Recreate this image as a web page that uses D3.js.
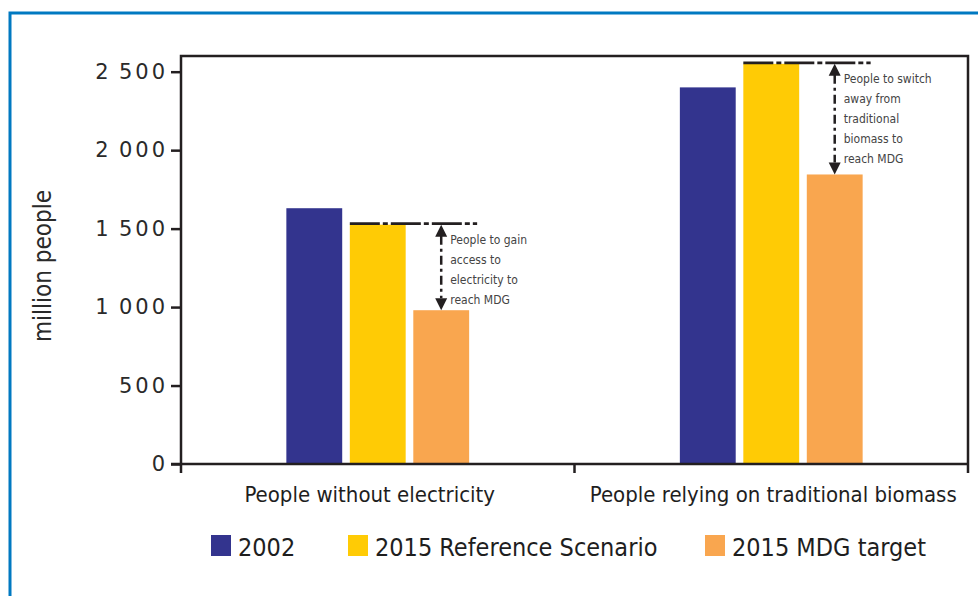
<!doctype html>
<html>
  <head>
    <script src="https://cdnjs.cloudflare.com/ajax/libs/d3/7.8.5/d3.min.js"></script>
    <style>
      body { margin: 0; background: #fff; }
      svg { display: block; }
      .tick text { font-family: "DejaVu Sans", sans-serif; letter-spacing: 3px; }
    </style>
  </head>
  <body>
    <svg width="978" height="596"></svg>
    <script>
      // values (million people)
      var categories = ["People without electricity", "People relying on traditional biomass"];
      var seriesNames = ["2002", "2015 Reference Scenario", "2015 MDG target"];
      var val2002 = [1630, 2400];
      var valRef = [1525, 2550];
      var valMdg = [980, 1845];
      var yTicks = [0, 500, 1000, 1500, 2000, 2500];
      var notes = [
        ["People to gain", "access to", "electricity to", "reach MDG"],
        ["People to switch", "away from", "traditional", "biomass to", "reach MDG"]
      ];
      var colors = ["#33348e", "#ffcb05", "#f9a64f"];

      var ink = "#231f20";
      var narrow = "'Liberation Sans Narrow', 'DejaVu Sans Condensed', sans-serif";

      var rows = categories.map((c, i) => ({cat: c, vals: [val2002[i], valRef[i], valMdg[i]]}));

      var svg = d3.select("svg");

      // blue outer frame
      svg.append("path")
        .attr("d", "M10,596 V13 H978")
        .attr("fill", "none")
        .attr("stroke", "#0079c1")
        .attr("stroke-width", 3);

      var pLeft = 181, pRight = 968, pTop = 56, pBottom = 464;

      var y = d3.scaleLinear().domain([0, 2600]).range([pBottom, pTop]);
      var x0 = d3.scaleBand().domain(categories).range([pLeft, pRight]);
      var x1 = d3.scaleBand().domain(seriesNames).range([0, x0.bandwidth()])
        .paddingInner(0.12).paddingOuter(1.66);

      // bars
      var groups = svg.selectAll("g.grp")
        .data(rows)
        .enter()
        .append("g")
          .attr("class", "grp")
          .attr("transform", d => `translate(${x0(d.cat)},0)`);

      groups.selectAll("rect")
        .data(d => d.vals.map((v, i) => ({name: seriesNames[i], v: v, i: i})))
        .enter()
        .append("rect")
          .attr("x", d => x1(d.name))
          .attr("y", d => y(d.v))
          .attr("width", x1.bandwidth())
          .attr("height", d => pBottom - y(d.v))
          .attr("fill", d => colors[d.i]);

      // y axis
      var yAxis = svg.append("g")
        .attr("transform", `translate(${pLeft},0)`)
        .call(d3.axisLeft(y).tickValues(yTicks).tickSize(10).tickPadding(6)
          .tickFormat(d => d3.format(",")(d).replace(",", "\u2009")));
      yAxis.select(".domain").remove();
      yAxis.selectAll(".tick line").attr("stroke", ink).attr("stroke-width", 2.5);
      yAxis.selectAll(".tick text")
        .attr("fill", "#2a2a2a")
        .attr("font-size", 21)
        .attr("dx", 3);

      // plot box + axis lines
      svg.append("path")
        .attr("d", `M${pLeft},${pBottom + 9} V${pTop} H${pRight} V${pBottom + 9}`)
        .attr("fill", "none")
        .attr("stroke", ink)
        .attr("stroke-width", 2.5);
      svg.append("line")
        .attr("x1", pLeft - 10).attr("x2", pRight)
        .attr("y1", pBottom).attr("y2", pBottom)
        .attr("stroke", ink).attr("stroke-width", 2.5);
      svg.append("line")
        .attr("x1", x0(categories[1])).attr("x2", x0(categories[1]))
        .attr("y1", pBottom).attr("y2", pBottom + 9)
        .attr("stroke", ink).attr("stroke-width", 2.5);

      // category labels
      svg.selectAll("text.cat")
        .data(categories)
        .enter()
        .append("text")
          .attr("class", "cat")
          .attr("x", (d, i) => x0(d) + x0.bandwidth() / 2 + (i === 0 ? -8 : 2))
          .attr("y", 502)
          .attr("text-anchor", "middle")
          .attr("font-family", narrow)
          .attr("font-size", 22)
          .attr("fill", "#1e1e1e")
          .text(d => d);

      // y label
      svg.append("text")
        .attr("transform", "translate(51,266) rotate(-90)")
        .attr("text-anchor", "middle")
        .attr("font-family", narrow)
        .attr("font-size", 24)
        .attr("fill", "#2a2a2a")
        .text("million people");

      // annotation arrows
      var marks = svg.append("g");
      rows.forEach((r, i) => {
        var gx = x0(r.cat);
        var xRef = gx + x1(seriesNames[1]);
        var xMdg = gx + x1(seriesNames[2]);
        var ax = xMdg + x1.bandwidth() / 2;
        var yTop = y(r.vals[1]) - 1;
        var yBot = y(r.vals[2]);

        marks.append("line")
          .attr("x1", xRef).attr("x2", xMdg + x1.bandwidth() + 8)
          .attr("y1", yTop).attr("y2", yTop)
          .attr("stroke", ink).attr("stroke-width", 2.7)
          .attr("stroke-dasharray", "30,3,5,3");
        marks.append("line")
          .attr("x1", ax).attr("x2", ax)
          .attr("y1", yTop + 12).attr("y2", yBot - 12)
          .attr("stroke", ink).attr("stroke-width", 2.5)
          .attr("stroke-dasharray", "9,4,3,4");
        marks.append("path")
          .attr("d", `M${ax},${yTop + 1} L${ax + 6},${yTop + 13} L${ax - 6},${yTop + 13} Z`)
          .attr("fill", ink);
        marks.append("path")
          .attr("d", `M${ax},${yBot} L${ax + 6},${yBot - 12} L${ax - 6},${yBot - 12} Z`)
          .attr("fill", ink);

        var t = marks.append("text")
          .attr("font-family", narrow)
          .attr("font-size", 12)
          .attr("fill", "#444");
        t.selectAll("tspan")
          .data(notes[i])
          .enter()
          .append("tspan")
            .attr("x", ax + 9)
            .attr("y", (d, k) => yTop + 20 + k * 20)
            .text(d => d);
      });

      // legend
      var legX = [211, 348, 705];
      var leg = svg.selectAll("g.leg")
        .data(seriesNames)
        .enter()
        .append("g")
          .attr("class", "leg")
          .attr("transform", (d, i) => `translate(${legX[i]},535)`);
      leg.append("rect")
        .attr("width", 20).attr("height", 21)
        .attr("fill", (d, i) => colors[i]);
      leg.append("text")
        .attr("x", 27).attr("y", 21)
        .attr("font-family", narrow)
        .attr("font-size", 25)
        .attr("fill", "#1e1e1e")
        .text(d => d);
    </script>
  </body>
</html>
